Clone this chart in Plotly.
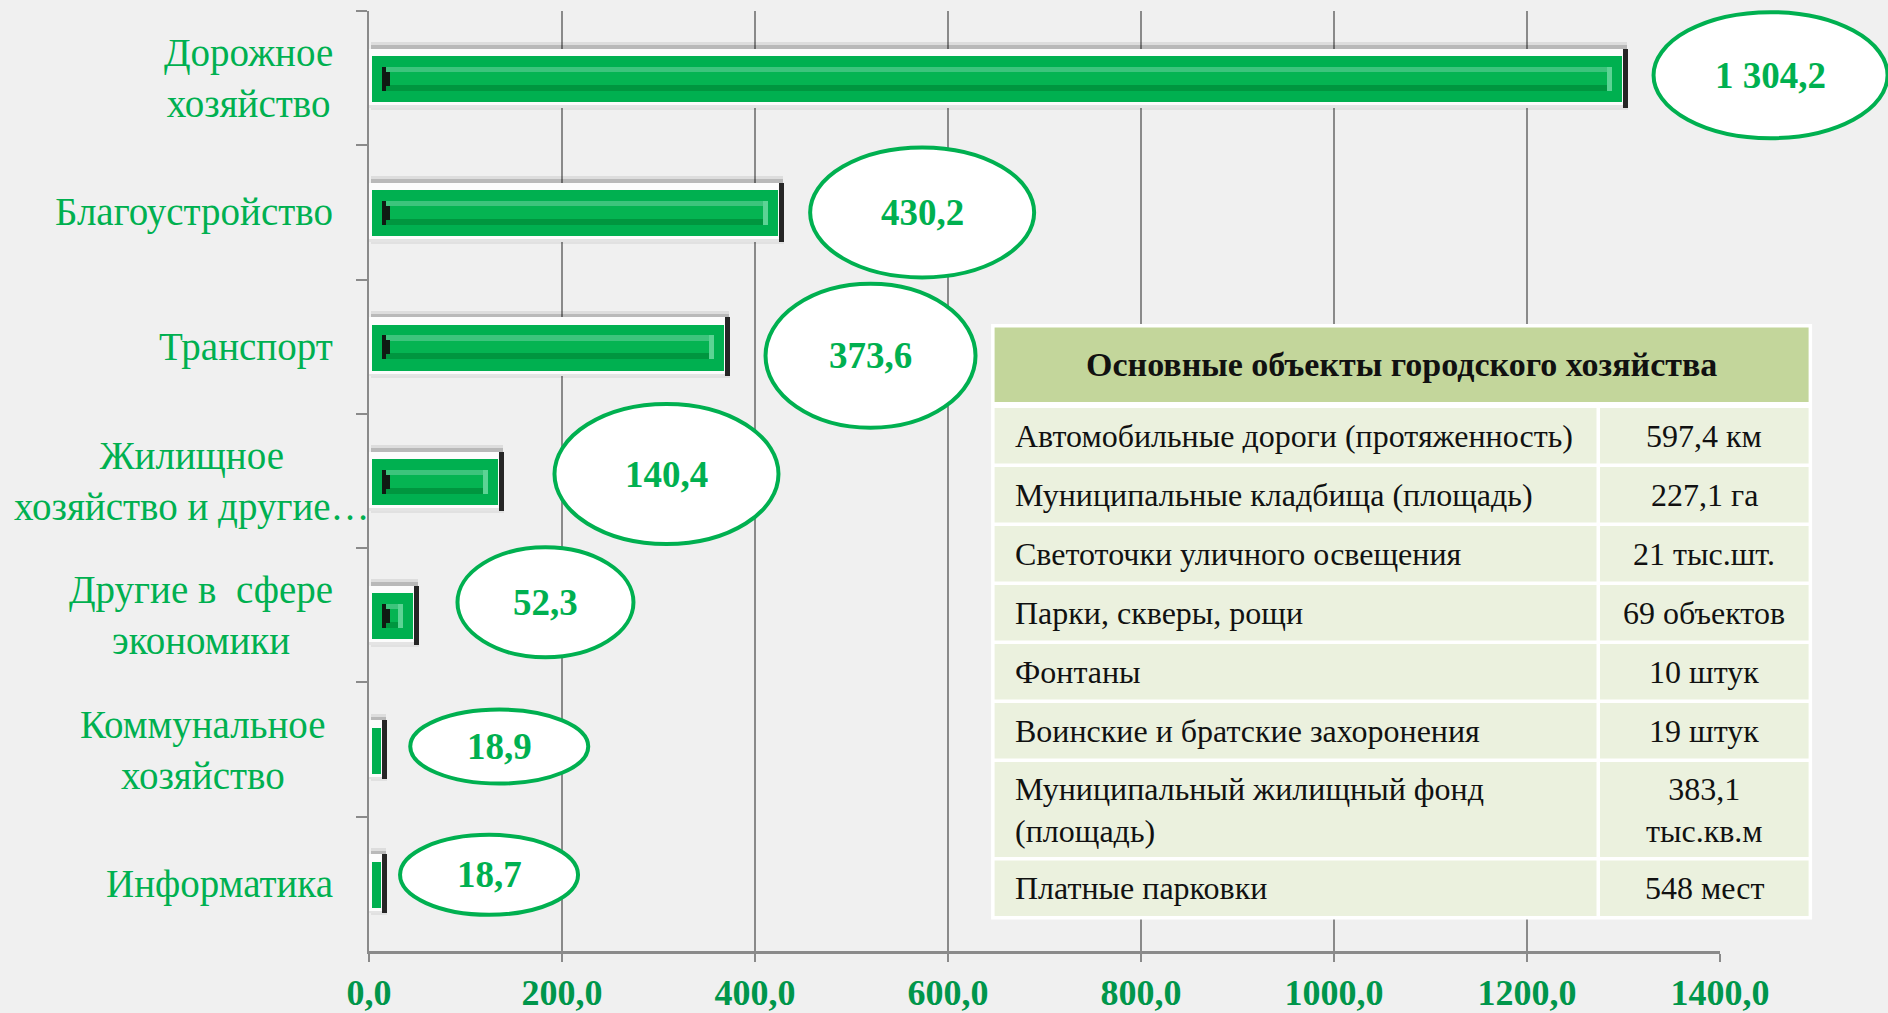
import plotly.graph_objects as go

# ---------------- data ----------------
categories = [
    "Дорожное<br>хозяйство",
    "Благоустройство",
    "Транспорт",
    "Жилищное<br>хозяйство и другие…",
    "Другие в\u00a0 сфере<br>экономики",
    "Коммунальное<br>хозяйство",
    "Информатика",
]
values = [1304.2, 430.2, 373.6, 140.4, 52.3, 18.9, 18.7]

x_tick_values = [0, 200, 400, 600, 800, 1000, 1200, 1400]
x_tick_labels = ["0,0", "200,0", "400,0", "600,0", "800,0", "1000,0", "1200,0", "1400,0"]

table_title = "Основные объекты городского хозяйства"
table_items = [
    "Автомобильные дороги (протяженность)",
    "Муниципальные кладбища (площадь)",
    "Светоточки уличного освещения",
    "Парки, скверы, рощи",
    "Фонтаны",
    "Воинские и братские захоронения",
    "Муниципальный жилищный фонд<br>(площадь)",
    "Платные парковки",
]
table_amounts = [
    "597,4 км",
    "227,1 га",
    "21 тыс.шт.",
    "69 объектов",
    "10 штук",
    "19 штук",
    "383,1<br>тыс.кв.м",
    "548 мест",
]

# ---------------- styles / layout geometry ----------------
W, H = 1888, 1013
ML, MR, MT, MB = 369, 168, 11, 62
PW, PH = W - ML - MR, H - MT - MB
X_MAX = 1400
PXU = PW / X_MAX                     # pixels per data unit
BAND = PH / len(categories)          # pixels per category band

SERIF = "Liberation Serif, Times New Roman, serif"
GREEN = "#00B050"
TICK_GREEN = "#00964B"
BG = "#F0F0F0"
GRID = "#8A8A8A"

# callout ellipse styles (pixels): half-width, half-height, gap to bar end, vertical shift
ell_rx = [117, 112, 105, 112, 88, 89, 89]
ell_ry = [63, 65, 72, 70, 55, 37, 40]
ell_gap = [26, 26, 36, 50, 38, 23, 13]
ell_dy = [-3, 0, 9, -7, -13, -3, -9]

LABEL_RIGHT_PX = 335
label_right_override = {3: 372, 5: 328}


def px_x(p):
    return (p - ML) / PW


def px_y(p):
    return 1 - (p - MT) / PH


def fmt(v):
    return f"{v:,.1f}".replace(",", " ").replace(".", ",")


fig = go.Figure()


def add_layer(y0, y1, start_fn, end_fn, color, min_len=0.5):
    """Bar layer; y0/y1 px relative to band centre, start/end px derived from the value's bar end."""
    xs, bases = [], []
    for v in values:
        e_px = v * PXU
        s = start_fn(e_px)
        e = end_fn(e_px)
        if e - s >= min_len:
            bases.append(s / PXU)
            xs.append((e - s) / PXU)
        else:
            bases.append(0)
            xs.append(None)
    fig.add_trace(go.Bar(
        y=categories, x=xs, base=bases, orientation="h",
        width=[(y1 - y0) / BAND] * len(categories),
        offset=[y0 / BAND] * len(categories),
        marker=dict(color=color, line=dict(width=0)),
        hoverinfo="skip", showlegend=False,
    ))


REC_MIN = 10
rec_ok = lambda E: E - 29 >= REC_MIN

# soft shadow
add_layer(-36, -29.5, lambda E: 2, lambda E: E - 1, "rgba(0,0,0,0.08)")
add_layer(-33, -29.5, lambda E: 2, lambda E: E - 1, "rgba(0,0,0,0.16)")
add_layer(29.5, 31.5, lambda E: 2, lambda E: E, "rgba(0,0,0,0.06)")
# dark right end
add_layer(-29.5, 29.5, lambda E: 0, lambda E: E, "#262626")
# light bevel frame
add_layer(-29.5, 29.5, lambda E: 0, lambda E: E - 5, "#FCFCFC")
add_layer(27, 29.5, lambda E: 0, lambda E: E - 5, "#E4E4E4")
# green face
add_layer(-22, 24, lambda E: 3, lambda E: E - 6, GREEN)
# inner recess
add_layer(-11.5, -6, lambda E: 13, lambda E: E - 16, "#3DC47C", REC_MIN)
add_layer(-6, 6.5, lambda E: 13, lambda E: E - 16, "#05B452", REC_MIN)
add_layer(6.5, 12.5, lambda E: 13, lambda E: E - 16, "#00963F", REC_MIN)
# recess left dark bevel (stepped triangle) and right light bevel
add_layer(-11.5, 12.5, lambda E: 13, lambda E: 17 if rec_ok(E) else 0, "#101A13", 3)
add_layer(-6.5, 7.5, lambda E: 17, lambda E: 21 if rec_ok(E) else 0, "#101A13", 3)
add_layer(-11.5, 12.5, lambda E: E - 21, lambda E: E - 16 if rec_ok(E) else 0, "#5CD394", 3)

shapes = []
annotations = []

# category labels
for i, cat in enumerate(categories):
    cy = MT + BAND * (i + 0.5)
    right = label_right_override.get(i, LABEL_RIGHT_PX)
    annotations.append(dict(
        x=px_x(right), y=px_y(cy), xref="paper", yref="paper",
        xanchor="right", yanchor="middle", align="center",
        text=cat, showarrow=False,
        font=dict(family=SERIF, size=39, color=GREEN),
    ))

# callout ellipses with value labels
for i, v in enumerate(values):
    end_px = ML + v * PXU
    cx = end_px + ell_gap[i] + ell_rx[i]
    cy = MT + BAND * (i + 0.5) + ell_dy[i]
    shapes.append(dict(
        type="circle", xref="paper", yref="paper",
        x0=px_x(cx - ell_rx[i]), x1=px_x(cx + ell_rx[i]),
        y0=px_y(cy + ell_ry[i]), y1=px_y(cy - ell_ry[i]),
        line=dict(color=GREEN, width=4), fillcolor="white", layer="above",
    ))
    annotations.append(dict(
        x=px_x(cx), y=px_y(cy), xref="paper", yref="paper",
        xanchor="center", yanchor="middle", showarrow=False,
        text="<b>" + fmt(v) + "</b>",
        font=dict(family=SERIF, size=37, color=GREEN),
    ))

# ---------------- table ----------------
TX0, TX1 = 994.6, 1808.6
COL_L_END, COL_R_START = 1596.5, 1600.0
HY0, HY1 = 327.5, 402.0
ROW_TOP = 408.0
ROW_H1, ROW_H2, ROW_GAP = 55.5, 95.0, 3.5
HEAD_FILL = "#C3D69B"
ROW_FILL = "#EBF1DE"

backing = dict(type="rect", xref="paper", yref="paper",
               x0=px_x(TX0 - 3.5), x1=px_x(TX1 + 3.5), y0=0, y1=px_y(HY0 - 3.5),
               fillcolor="white", line=dict(width=0), layer="above")
shapes.append(backing)
shapes.append(dict(type="rect", xref="paper", yref="paper",
                   x0=px_x(TX0), x1=px_x(TX1), y0=px_y(HY1), y1=px_y(HY0),
                   fillcolor=HEAD_FILL, line=dict(width=0), layer="above"))
annotations.append(dict(
    x=px_x((TX0 + TX1) / 2), y=px_y((HY0 + HY1) / 2), xref="paper", yref="paper",
    xanchor="center", yanchor="middle", showarrow=False,
    text="<b>" + table_title + "</b>",
    font=dict(family=SERIF, size=34, color="#111111"),
))

y = ROW_TOP
for item, amount in zip(table_items, table_amounts):
    h = ROW_H2 if "<br>" in item or "<br>" in amount else ROW_H1
    for (a, b) in ((TX0, COL_L_END), (COL_R_START, TX1)):
        shapes.append(dict(type="rect", xref="paper", yref="paper",
                           x0=px_x(a), x1=px_x(b), y0=px_y(y + h), y1=px_y(y),
                           fillcolor=ROW_FILL, line=dict(width=0), layer="above"))
    annotations.append(dict(
        x=px_x(TX0 + 18), y=px_y(y + h / 2), xref="paper", yref="paper",
        xanchor="left", yanchor="middle", align="left", showarrow=False,
        text=item, font=dict(family=SERIF, size=32, color="#111111"),
    ))
    annotations.append(dict(
        x=px_x((COL_R_START + TX1) / 2), y=px_y(y + h / 2), xref="paper", yref="paper",
        xanchor="center", yanchor="middle", align="center", showarrow=False,
        text=amount, font=dict(family=SERIF, size=32, color="#111111"),
    ))
    y += h + ROW_GAP

backing["y0"] = px_y(y - ROW_GAP + 3.5)

fig.update_layout(
    width=W, height=H,
    margin=dict(l=ML, r=MR, t=MT, b=MB, autoexpand=False),
    paper_bgcolor=BG, plot_bgcolor=BG,
    barmode="overlay", bargap=0,
    font=dict(family=SERIF),
    shapes=shapes, annotations=annotations,
    xaxis=dict(
        range=[0, X_MAX], tickvals=x_tick_values,
        ticktext=["<b>" + t + "</b>" for t in x_tick_labels],
        showgrid=True, gridcolor=GRID, gridwidth=1.5, zeroline=False,
        showline=True, linecolor=GRID, linewidth=2.5,
        ticks="outside", ticklen=8, tickwidth=1.5, tickcolor=GRID,
        tickfont=dict(family=SERIF, size=36, color=TICK_GREEN),
        fixedrange=True,
    ),
    yaxis=dict(
        type="category", categoryorder="array", categoryarray=categories,
        autorange="reversed", showticklabels=False, showgrid=False, zeroline=False,
        showline=True, linecolor=GRID, linewidth=1.5,
        ticks="outside", tickson="boundaries", ticklen=11, tickwidth=1.5, tickcolor=GRID,
        fixedrange=True,
    ),
)

fig.write_html(
    "out.html",
    config={"displayModeBar": False},
    post_script="document.body.style.margin='0';document.body.style.background='#F0F0F0';"
                "document.body.style.overflow='hidden';",
)
